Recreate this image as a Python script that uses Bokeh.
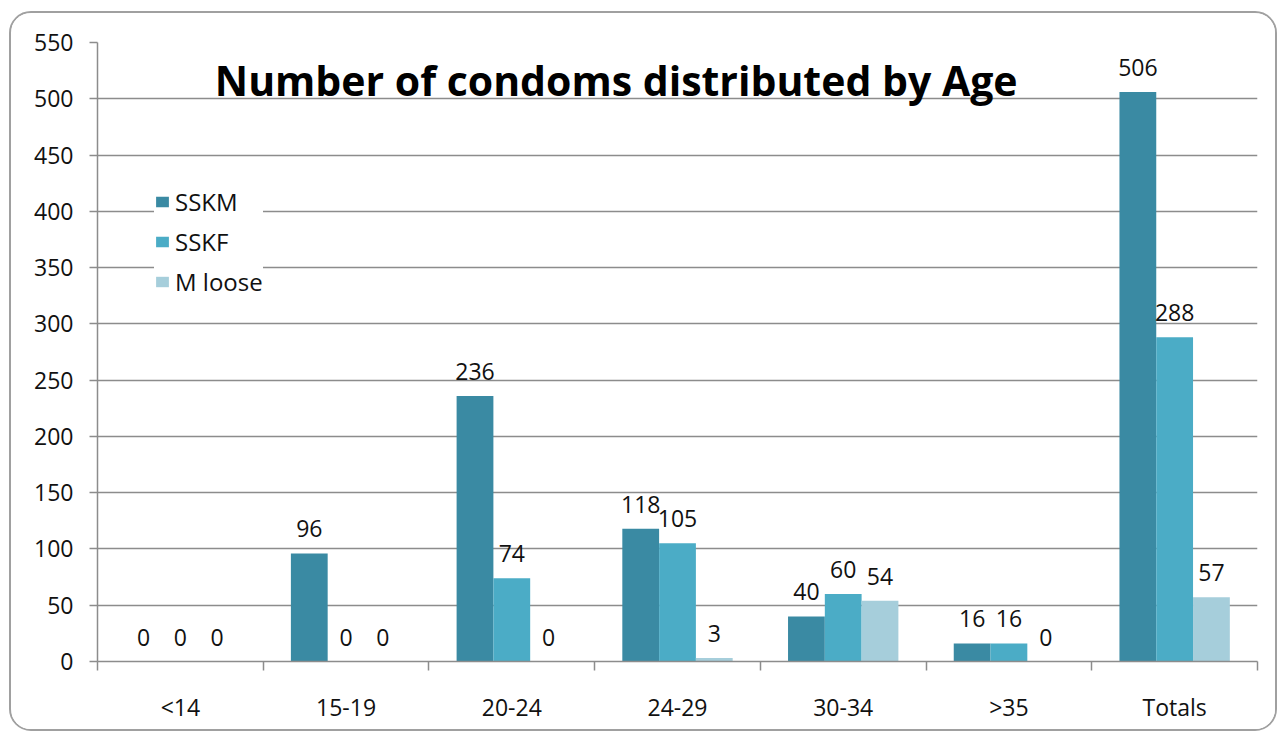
import numpy as np
from bokeh.plotting import figure
from bokeh.models import (ColumnDataSource, Range1d, FixedTicker, Legend, LegendItem,
                          Label, LabelSet)
from bokeh.core.properties import value
from bokeh.embed import file_html
from bokeh.resources import INLINE

# ---------------- data ----------------
categories = ["<14", "15-19", "20-24", "24-29", "30-34", ">35", "Totals"]
sskm = [0, 96, 236, 118, 40, 16, 506]
sskf = [0, 0, 74, 105, 60, 16, 288]
mloose = [0, 0, 0, 3, 54, 0, 57]
series_names = ["SSKM", "SSKF", "M loose"]
series_values = [sskm, sskf, mloose]
colors = ["#3a8aa3", "#4bacc6", "#a6cedb"]
y_ticks = list(range(0, 551, 50))
title_text = "Number of condoms distributed by Age"

FONT = "Open Sans"
BAR_W = 0.222

p = figure(width=1268, height=720, output_backend="svg", toolbar_location=None,
           x_range=Range1d(0, len(categories)), y_range=Range1d(0, 550),
           min_border_left=86, min_border_right=22, min_border_top=29,
           min_border_bottom=72)
p.styles = {"border": "2px solid #a0a0a0", "border-radius": "22px",
            "overflow": "hidden", "margin-left": "9px", "margin-top": "11px"}
p.outline_line_color = None
p.background_fill_color = "white"
p.border_fill_color = "white"

centers = np.arange(len(categories)) + 0.5
offsets = [-BAR_W, 0.0, BAR_W]
items = []
for name, vals, col, off in zip(series_names, series_values, colors, offsets):
    src = ColumnDataSource(dict(x=centers + off, top=vals,
                                lab=[str(v) for v in vals]))
    r = p.vbar(x="x", top="top", width=BAR_W, source=src, fill_color=col,
               line_color=None)
    items.append(LegendItem(label=name, renderers=[r]))
    p.add_layout(LabelSet(x="x", y="top", text="lab", source=src,
                          text_align="center", text_baseline="alphabetic",
                          y_offset=16, text_font=value(FONT),
                          text_font_size="23px", text_color="#111111"))

# title drawn inside the plot area
p.add_layout(Label(x=3.13, y=517, text=title_text, text_align="center",
                   text_baseline="alphabetic", text_font=FONT,
                   text_font_style="bold", text_font_size="41px",
                   text_color="#000000"))

# axes
xa = p.xaxis[0]
xa.ticker = FixedTicker(ticks=list(centers), minor_ticks=list(range(len(categories) + 1)))
xa.major_label_overrides = {float(c): lab for c, lab in zip(centers, categories)}
xa.major_tick_line_color = None
xa.major_tick_out = 0
xa.major_tick_in = 0
xa.minor_tick_out = 9
xa.minor_tick_in = 0
xa.minor_tick_line_color = "#8c8c8c"
xa.minor_tick_line_width = 1.5
xa.axis_line_color = "#8c8c8c"
xa.axis_line_width = 1.5
xa.major_label_standoff = 20
xa.major_label_text_font = FONT
xa.major_label_text_font_size = "23px"
xa.major_label_text_color = "#111111"

ya = p.yaxis[0]
ya.ticker = FixedTicker(ticks=y_ticks)
ya.major_tick_out = 8
ya.major_tick_in = 0
ya.minor_tick_line_color = None
ya.major_tick_line_color = "#8c8c8c"
ya.major_tick_line_width = 1.5
ya.axis_line_color = "#8c8c8c"
ya.axis_line_width = 1.5
ya.major_label_standoff = 16
ya.major_label_text_font = FONT
ya.major_label_text_font_size = "23px"
ya.major_label_text_color = "#111111"

p.xgrid.grid_line_color = None
p.ygrid.ticker = FixedTicker(ticks=y_ticks)
p.ygrid.grid_line_color = "#8c8c8c"
p.ygrid.grid_line_width = 1.5

legend = Legend(items=items, location=(57, 363), orientation="vertical",
                background_fill_color="white", background_fill_alpha=1.0,
                border_line_color=None, label_text_font=FONT,
                label_text_font_size="24px", label_text_color="#111111",
                glyph_width=16, glyph_height=13, label_height=24,
                spacing=7, padding=16, label_standoff=5, margin=0)
p.add_layout(legend, "center")

open("out.html", "w").write(file_html(p, INLINE))
